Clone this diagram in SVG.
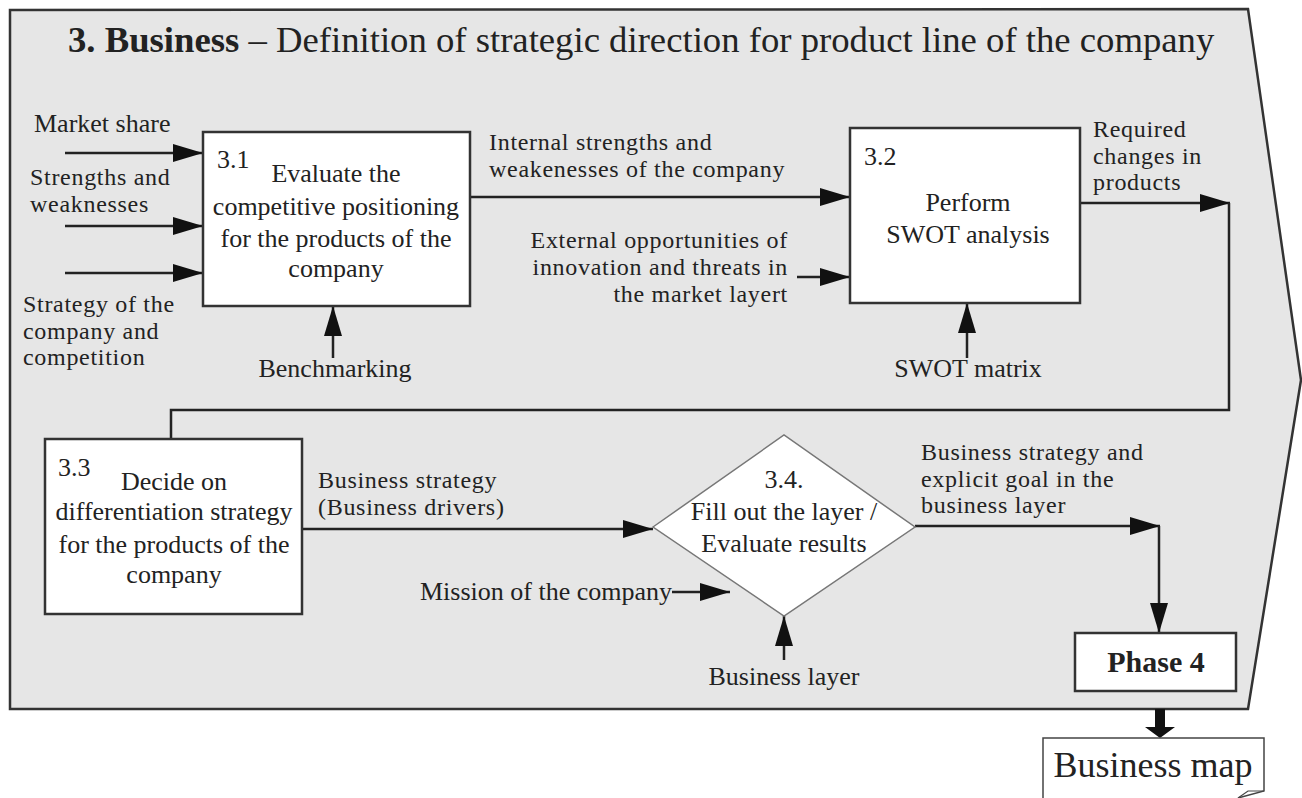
<svg xmlns="http://www.w3.org/2000/svg" width="1302" height="798" viewBox="0 0 1302 798">
<defs>
<style>
text{font-family:"Liberation Serif","Times New Roman",serif;fill:#222;font-size:26px}
.ml{font-size:24px;letter-spacing:0.7px}
.title{font-size:36.7px}
.b{font-weight:bold}
.mid{text-anchor:middle}
.end{text-anchor:end}
.box{fill:#fff;stroke:#333;stroke-width:2.5}
.ln{fill:none;stroke:#222;stroke-width:2.5}
.arr{fill:none;stroke:#222;stroke-width:2.5;marker-end:url(#ah)}
</style>
<marker id="ah" markerUnits="userSpaceOnUse" markerWidth="30" markerHeight="18" refX="30" refY="9" orient="auto">
<path d="M0,0 L30,9 L0,18 z" fill="#111"/>
</marker>
</defs>
<rect width="1302" height="798" fill="#fff"/>
<g id="frame">
<polygon points="10,10 1248,9 1301,380 1248,709 10,709" fill="#e6e6e6" stroke="#333" stroke-width="2.5"/>
<text class="title" x="68" y="52"><tspan class="b">3. Business</tspan> – Definition of strategic direction for product line of the company</text>
</g>
<g id="connectors">
<path class="arr" d="M65,153 H203"/>
<path class="arr" d="M65,226 H203"/>
<path class="arr" d="M65,273 H203"/>
<path class="arr" d="M333,358 V306"/>
<path class="arr" d="M470,197 H850"/>
<path class="arr" d="M797,277 H850"/>
<path class="arr" d="M967,358 V303"/>
<path class="arr" d="M1081,203 H1230"/>
<path class="ln" d="M1229,203 V410 H171 V439"/>
<path class="arr" d="M302,529 H653"/>
<path class="arr" d="M672,592 H730"/>
<path class="arr" d="M784,660 V616"/>
<path class="arr" d="M915,526 H1160"/>
<path class="arr" d="M1159,526 V633"/>
<path d="M1155,709 H1165 V727 H1175 L1160,738 L1145,727 H1155 Z" fill="#111"/>
</g>
<g id="labels">
<text x="34" y="132">Market share</text>
<text class="ml" x="30" y="185">Strengths and<tspan x="30" y="212">weaknesses</tspan></text>
<text class="ml" x="23" y="312">Strategy of the<tspan x="23" y="338.5">company and</tspan><tspan x="23" y="365">competition</tspan></text>
<text class="mid" x="335" y="377">Benchmarking</text>
<text class="ml" x="489" y="150">Internal strengths and<tspan x="489" y="176.5">weakenesses of the company</tspan></text>
<text class="ml end" x="788" y="248">External opportunities of<tspan x="788" y="275">innovation and threats in</tspan><tspan x="788" y="302">the market layert</tspan></text>
<text class="mid" x="968" y="377">SWOT matrix</text>
<text class="ml" x="1093" y="137">Required<tspan x="1093" y="163.5">changes in</tspan><tspan x="1093" y="190">products</tspan></text>
<text class="ml" x="318" y="488">Business strategy<tspan x="318" y="514.5">(Business drivers)</tspan></text>
<text class="end" x="672" y="600">Mission of the company</text>
<text class="mid" x="784" y="685">Business layer</text>
<text class="ml" x="921" y="460">Business strategy and<tspan x="921" y="486.5">explicit goal in the</tspan><tspan x="921" y="513">business layer</tspan></text>
</g>
<g id="n31">
<rect class="box" x="203" y="132" width="267" height="174"/>
<text x="217" y="168">3.1</text>
<text class="mid" x="336" y="182">Evaluate the<tspan x="336" y="215">competitive positioning</tspan><tspan x="336" y="247">for the products of the</tspan><tspan x="336" y="277">company</tspan></text>
</g>
<g id="n32">
<rect class="box" x="850" y="128" width="230" height="175"/>
<text x="864" y="165">3.2</text>
<text class="mid" x="968" y="211">Perform<tspan x="968" y="243">SWOT analysis</tspan></text>
</g>
<g id="n33">
<rect class="box" x="45" y="439" width="257" height="175"/>
<text x="58" y="476">3.3</text>
<text class="mid" x="174" y="490">Decide on<tspan x="174" y="520">differentiation strategy</tspan><tspan x="174" y="553">for the products of the</tspan><tspan x="174" y="583">company</tspan></text>
</g>
<g id="n34">
<polygon points="653,527 784,435 915,527 784,616" fill="#fff" stroke="#777" stroke-width="1.5"/>
<text class="mid" x="784" y="488">3.4.<tspan x="784" y="520">Fill out the layer /</tspan><tspan x="784" y="552">Evaluate results</tspan></text>
</g>
<g id="phase4">
<rect class="box" x="1075" y="633" width="161" height="58"/>
<text class="mid b" x="1156" y="672" style="font-size:30px">Phase 4</text>
</g>
<g id="bizmap">
<path d="M1043,798 V738 H1264 V791 L1238,798" fill="#fff" stroke="#444" stroke-width="1.5"/>
<path d="M1238,798 L1248,791 H1264" fill="none" stroke="#444" stroke-width="1.2"/>
<text class="mid" x="1153" y="777" style="font-size:36px">Business map</text>
</g>
</svg>
